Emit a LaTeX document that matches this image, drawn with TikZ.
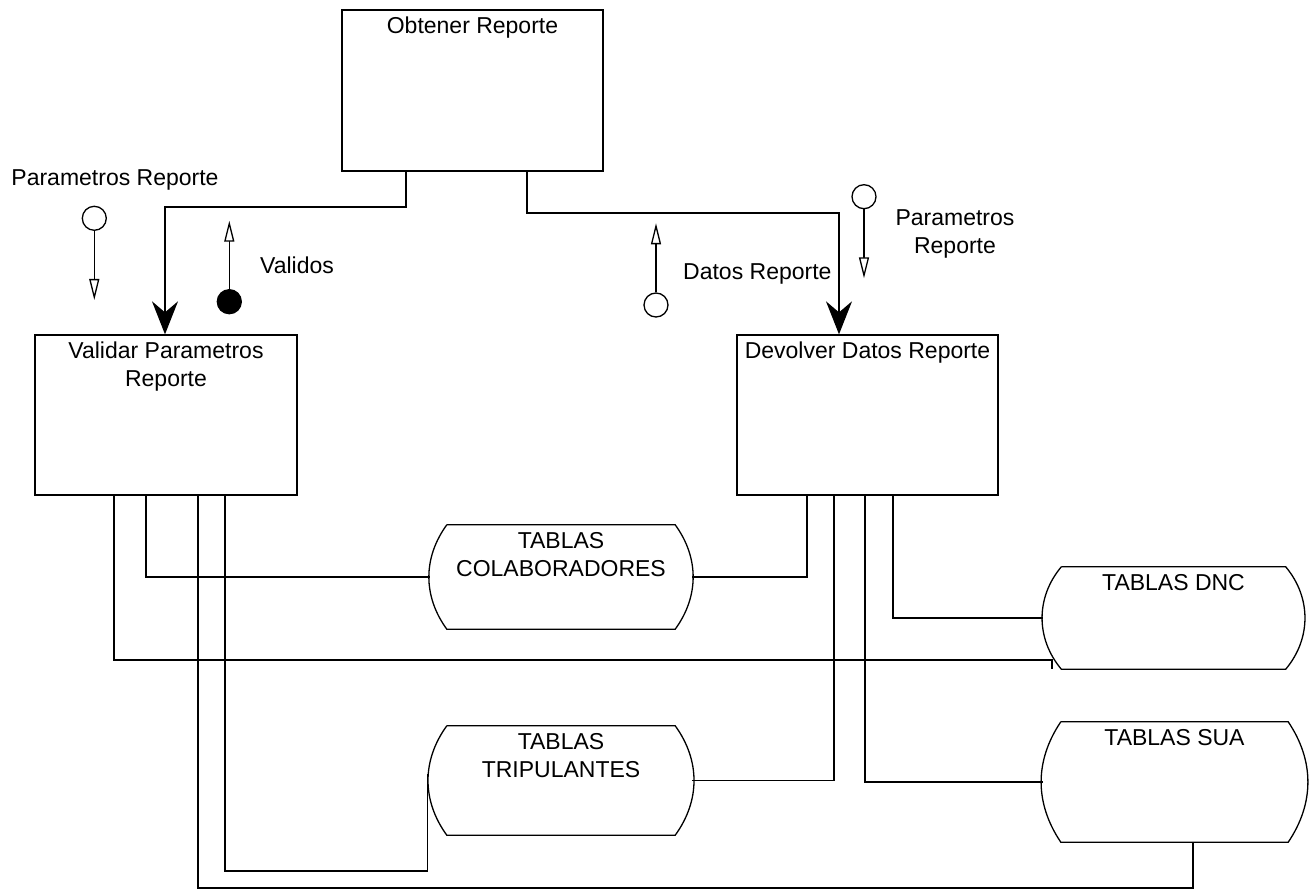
\documentclass[tikz,border=0pt]{standalone}
\usepackage{fontspec}
\setmainfont{Liberation Sans}
\usetikzlibrary{arrows.meta,calc,fit}

\tikzset{
  lbl/.style={inner sep=0pt, align=center, anchor=base,
    font=\fontsize{23}{28}\selectfont},
  proc/.style={draw, line width=1.3pt, inner sep=0pt},
  store/.style={draw=none, inner sep=0pt},
  conn/.style={line width=1.3pt},
  flowarrow/.style={conn, -{Stealth[length=33pt, width=26pt, inset=11pt]}},
  couple/.style={draw, circle, line width=1.3pt, minimum size=24pt, inner sep=0pt},
  couplearrow/.style={conn, -{Triangle[length=21pt, width=10pt, fill=white, line width=1.3pt]}},
}

% data store outline: straight top and bottom, bowed sides
\newcommand{\drawstore}[3]{%
  \draw[conn] ([xshift=#2]#1.north west) -- ([xshift=-#2]#1.north east)
    to[bend left=#3] ([xshift=-#2]#1.south east)
    -- ([xshift=#2]#1.south west)
    to[bend left=#3] ([xshift=#2]#1.north west);}

\begin{document}
\begin{tikzpicture}[x=1pt, y=-1pt]
  \useasboundingbox (0,0) rectangle (1311,890);

  % processes
  \node[proc, fit={(342,10) (603,171)}] (obt) {};
  \node[proc, fit={(35,335) (297,495)}] (val) {};
  \node[proc, fit={(737,335) (998,495)}] (dev) {};
  % two-line labels are placed by the baseline of their last line
  \node[lbl] (obt-t) at ([yshift=-24pt]obt.north) {Obtener Reporte};
  \node[lbl] (val-t) at ([yshift=-52pt]val.north) {Validar Parametros\\Reporte};
  \node[lbl] (dev-t) at ([yshift=-24pt]dev.north) {Devolver Datos Reporte};

  % data stores
  \node[store, fit={(430,525) (692,629)}] (colab) {};
  \node[store, fit={(430,726) (692,835)}] (trip) {};
  \node[store, fit={(1043,567) (1304,669)}] (dnc) {};
  \node[store, fit={(1043,722) (1306,842)}] (sua) {};
  \drawstore{colab}{17}{36}
  \drawstore{trip}{17}{36}
  \drawstore{dnc}{18.5}{40}
  \drawstore{sua}{18}{34}
  \node[lbl] (colab-t) at ([yshift=-52pt]colab.north) {TABLAS\\COLABORADORES};
  \node[lbl] (trip-t) at ([yshift=-52pt]trip.north) {TABLAS\\TRIPULANTES};
  \node[lbl] (dnc-t) at ([yshift=-24pt]dnc.north) {TABLAS DNC};
  \node[lbl] (sua-t) at ([yshift=-24pt]sua.north) {TABLAS SUA};

  % calls from the top process
  \draw[flowarrow] (406,0 |- obt.south) -- (406,207) -| (165,0 |- val.north);
  \draw[flowarrow] (527,0 |- obt.south) -- (527,213) -| (839,0 |- dev.north);

  % couples
  \node[couple] (c1) at (94.3,218.3) {};
  \coordinate (c1t) at (94.3,300);
  \draw[couplearrow] (c1) -- (c1t);
  \node[couple, fill=black] (c2) at (229.3,301.7) {};
  \coordinate (c2t) at (229.3,220.7);
  \draw[couplearrow] (c2) -- (c2t);
  \node[couple] (c3) at (656,305) {};
  \coordinate (c3t) at (656,223.3);
  \draw[couplearrow] (c3) -- (c3t);
  \node[couple] (c4) at (864,196.7) {};
  \coordinate (c4t) at (864,278.3);
  \draw[couplearrow] (c4) -- (c4t);

  \node[lbl] (l1) at (115,186) {Parametros Reporte};
  \node[lbl, anchor=base west] (l2) at (260,274) {Validos};
  \node[lbl, anchor=base west] (l3) at (683,280) {Datos Reporte};
  \node[lbl] (l4) at (955,254) {Parametros\\Reporte};

  % links from Validar Parametros Reporte
  \draw[conn] (146,0 |- val.south) |- (colab.west);
  \draw[conn] (114,0 |- val.south) -- (114,660) -- (1052,660) -- (1052,0 |- dnc.south);
  \draw[conn] (198,0 |- val.south) -- (198,888) -| (1193,0 |- sua.south);
  \draw[conn] (225,0 |- val.south) -- (225,871) -| ([shift={(-2pt,7pt)}]trip.west);

  % links from Devolver Datos Reporte
  \draw[conn] (807,0 |- dev.south) |- (colab.east);
  \draw[conn] (834,0 |- dev.south) |- (trip.east);
  \draw[conn] (865,0 |- dev.south) |- (sua.west);
  \draw[conn] (893,0 |- dev.south) |- (dnc.west);
\end{tikzpicture}
\end{document}
